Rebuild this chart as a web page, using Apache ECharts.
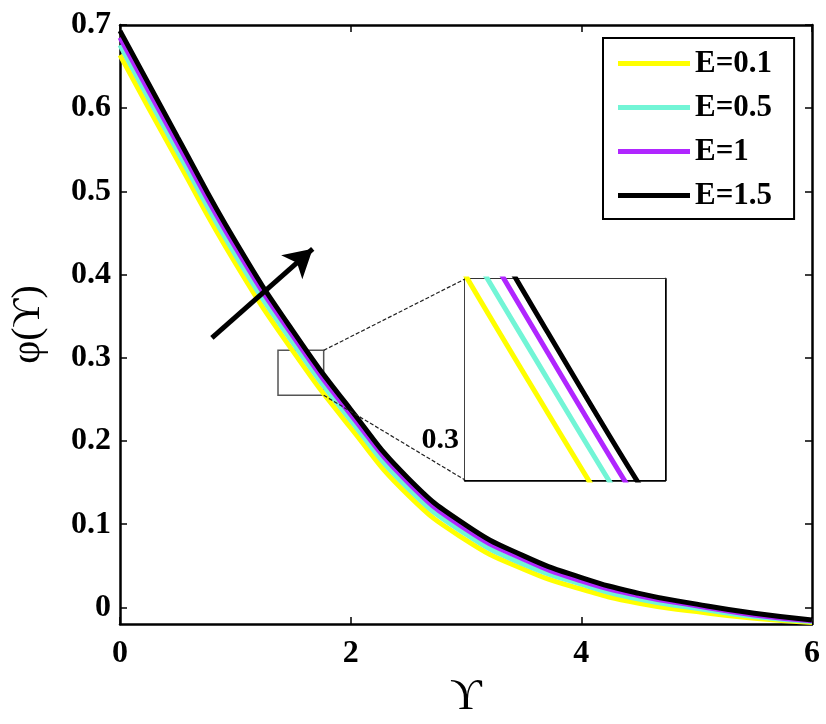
<!DOCTYPE html>
<html>
<head>
<meta charset="utf-8">
<script src="https://cdn.jsdelivr.net/npm/echarts@6/dist/echarts.min.js"></script>
<style>
  html, body { margin: 0; padding: 0; background: #fff; }
  #chart { width: 826px; height: 724px; }
</style>
</head>
<body>
<div id="chart"></div>
<script>
// profile values
const xs = [0, 0.5, 1, 1.5, 2, 2.5, 3, 3.5, 4, 4.5, 5, 5.5, 6];
const e01 = [0.664, 0.537, 0.414, 0.308, 0.216, 0.135, 0.081, 0.046, 0.022, 0.005, -0.005, -0.013, -0.018];
const e05 = [0.676, 0.548, 0.424, 0.318, 0.225, 0.143, 0.088, 0.052, 0.028, 0.010, -0.001, -0.011, -0.017];
const e1 = [0.685, 0.557, 0.433, 0.326, 0.232, 0.150, 0.094, 0.058, 0.032, 0.014, 0.002, -0.009, -0.016];
const e15 = [0.693, 0.565, 0.440, 0.332, 0.238, 0.155, 0.099, 0.062, 0.036, 0.017, 0.004, -0.007, -0.015];

const names = ["E=0.1", "E=0.5", "E=1", "E=1.5"];
const colors = ["#ffff00", "#72f5d6", "#b026ff", "#000000"];
const values = [e01, e05, e1, e15];

const yTicks = [0, 0.1, 0.2, 0.3, 0.4, 0.5, 0.6, 0.7];
const insetTicks = [0.3];

// zoom window and arrow (data coordinates)
const boxX = [1.37, 1.766];
const boxY = [0.255, 0.309];
const insetX = [1.293, 1.793];
const insetY = [0.288, 0.348];
const arrowFrom = [0.797, 0.324];
const arrowTo = [1.671, 0.431];

const serif = "'Liberation Serif', 'DejaVu Serif', serif";

const chart = echarts.init(document.getElementById("chart"));

const edge = { show: true, onZero: false, lineStyle: { color: "#000", width: 2.5 } };
const tickIn = (vals) => ({ show: true, inside: true, length: 7, lineStyle: { color: "#000", width: 1.5 }, customValues: vals });

const makeSeries = (xi, yi, z0) => names.map((n, k) => ({
  name: n,
  type: "line",
  xAxisIndex: xi,
  yAxisIndex: yi,
  data: xs.map((x, i) => [x, values[k][i]]),
  showSymbol: false,
  smooth: 0.5,
  lineStyle: { color: colors[k], width: 5 },
  itemStyle: { color: colors[k] },
  z: z0 + k,
}));

const mainSeries = makeSeries(0, 0, 2);
const insetSeries = makeSeries(2, 2, 10);

mainSeries[3].markArea = {
  silent: true,
  itemStyle: { color: "rgba(0,0,0,0)", borderColor: "#555", borderWidth: 1.5 },
  data: [[{ coord: [boxX[0], boxY[1]] }, { coord: [boxX[1], boxY[0]] }]],
};
mainSeries[3].markLine = {
  silent: true,
  symbol: ["none", "arrow"],
  symbolSize: [24, 28],
  label: { show: false },
  lineStyle: { color: "#000", width: 5, type: "solid" },
  data: [[{ coord: arrowFrom }, { coord: arrowTo }]],
};

chart.setOption({
  animation: false,
  backgroundColor: "#fff",
  grid: [
    { left: 119, top: 25, width: 693, height: 600 },
    { left: 465, top: 279, width: 200, height: 201, show: true, backgroundColor: "#fff", borderWidth: 0, z: 8 },
  ],
  legend: {
    data: names,
    orient: "vertical",
    left: 603,
    top: 38,
    icon: "rect",
    itemWidth: 72,
    itemHeight: 5,
    itemGap: 13,
    padding: [10, 22, 8, 15],
    borderColor: "#000",
    borderWidth: 2,
    backgroundColor: "#fff",
    textStyle: { fontFamily: serif, fontWeight: "bold", fontSize: 31, lineHeight: 30, color: "#000" },
  },
  xAxis: [
    {
      gridIndex: 0, type: "value", min: 0, max: 6, interval: 2, position: "bottom",
      axisLine: edge, axisTick: { show: true, inside: true, length: 7, lineStyle: { color: "#000", width: 1.5 } },
      splitLine: { show: false },
      axisLabel: { margin: 14, fontFamily: serif, fontWeight: "bold", fontSize: 32, color: "#000" },
      name: "\u03D2", nameLocation: "middle", nameGap: 44,
      nameTextStyle: { fontFamily: serif, fontSize: 44, color: "#000" },
    },
    {
      gridIndex: 0, type: "value", min: 0, max: 6, interval: 2, position: "top",
      axisLine: edge, axisTick: { show: true, inside: true, length: 7, lineStyle: { color: "#000", width: 1.5 } },
      axisLabel: { show: false }, splitLine: { show: false },
    },
    {
      gridIndex: 1, type: "value", min: insetX[0], max: insetX[1], position: "bottom",
      axisLine: edge, axisTick: { show: false }, axisLabel: { show: false }, splitLine: { show: false },
    },
    {
      gridIndex: 1, type: "value", min: insetX[0], max: insetX[1], position: "top",
      axisLine: { show: true, onZero: false, lineStyle: { color: "#333", width: 2 } },
      axisTick: { show: false }, axisLabel: { show: false }, splitLine: { show: false },
    },
  ],
  yAxis: [
    {
      gridIndex: 0, type: "value", min: -0.02, max: 0.7, position: "left",
      axisLine: edge, axisTick: tickIn(yTicks), splitLine: { show: false },
      axisLabel: {
        customValues: yTicks, margin: 9,
        fontFamily: serif, fontWeight: "bold", fontSize: 32, color: "#000",
        formatter: (v) => String(v),
      },
      name: "\u03C6(\u03D2)", nameLocation: "middle", nameGap: 72, nameRotate: 90,
      nameTextStyle: { fontFamily: serif, fontSize: 40, color: "#000" },
    },
    {
      gridIndex: 0, type: "value", min: -0.02, max: 0.7, position: "right",
      axisLine: edge, axisTick: tickIn(yTicks), axisLabel: { show: false }, splitLine: { show: false },
    },
    {
      gridIndex: 1, type: "value", min: insetY[0], max: insetY[1], position: "left",
      axisLine: edge, axisTick: { show: true, inside: true, length: 3, lineStyle: { color: "#000" }, customValues: insetTicks },
      splitLine: { show: false },
      axisLabel: {
        customValues: insetTicks, margin: 6,
        fontFamily: serif, fontWeight: "bold", fontSize: 30, color: "#000",
        formatter: (v) => String(v),
      },
    },
    {
      gridIndex: 1, type: "value", min: insetY[0], max: insetY[1], position: "right",
      axisLine: edge, axisTick: { show: true, inside: true, length: 3, lineStyle: { color: "#000" }, customValues: insetTicks },
      axisLabel: { show: false }, splitLine: { show: false },
    },
  ],
  series: mainSeries.concat(insetSeries),
});

// connector lines from the zoom window to the inset
const main = { xAxisIndex: 0, yAxisIndex: 0 };
const ins = { xAxisIndex: 2, yAxisIndex: 2 };
const p1 = chart.convertToPixel(main, [boxX[1], boxY[1]]);
const p2 = chart.convertToPixel(main, [boxX[1], boxY[0]]);
const q1 = chart.convertToPixel(ins, [insetX[0], insetY[1]]);
const q2 = chart.convertToPixel(ins, [insetX[0], insetY[0]]);
const link = (a, b) => ({
  type: "line", silent: true, z: 10,
  shape: { x1: a[0], y1: a[1], x2: b[0], y2: b[1] },
  style: { stroke: "#222", lineWidth: 1.2, lineDash: [4, 2] },
});
chart.setOption({ graphic: [link(p1, q1), link(p2, q2)] });
</script>
</body>
</html>
